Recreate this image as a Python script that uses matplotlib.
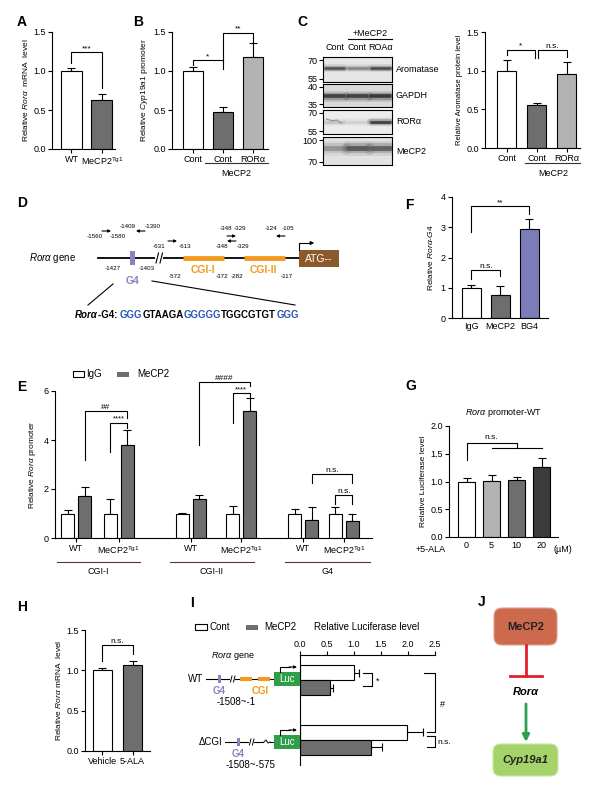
import matplotlib
matplotlib.use('Agg')
import matplotlib.pyplot as plt
from matplotlib.patches import Rectangle, FancyBboxPatch
import numpy as np

plt.rcParams['font.family'] = ['Liberation Sans', 'DejaVu Sans']
plt.rcParams['mathtext.fontset'] = 'custom'
plt.rcParams['mathtext.rm'] = 'Liberation Sans'
plt.rcParams['mathtext.it'] = 'Liberation Sans:italic'
plt.rcParams['mathtext.bf'] = 'Liberation Sans:bold'
plt.rcParams['axes.linewidth'] = 0.8

# ---- data ----
a_labels = ['WT', r'MeCP2$^{\mathrm{Tg1}}$']
a_vals = [1.0, 0.63]
a_errs = [0.04, 0.08]

b_labels = ['Cont', 'Cont', 'RORα']
b_vals = [1.0, 0.48, 1.18]
b_errs = [0.05, 0.06, 0.18]

c_lanes = ['Cont', 'Cont', 'ROAα']
c_proteins = ['Aromatase', 'GAPDH', 'RORα', 'MeCP2']
c_markers = [('70', '55'), ('40', '35'), ('70', '55'), ('100', '70')]
c_bands = [[0.8, 0.5, 0.85], [0.9, 0.9, 0.95], [0.12, 0.05, 0.9], [0.4, 0.75, 0.7]]
c_labels = ['Cont', 'Cont', 'RORα']
c_vals = [1.0, 0.55, 0.96]
c_errs = [0.14, 0.03, 0.15]

f_labels = ['IgG', 'MeCP2', 'BG4']
f_vals = [1.0, 0.75, 2.93]
f_errs = [0.1, 0.3, 0.35]

e_regions = ['CGI-I', 'CGI-II', 'G4']
e_geno = ['WT', r'MeCP2$^{\mathrm{Tg1}}$']
e_igg = [1.0, 1.0, 1.0, 1.0, 1.0, 1.0]
e_igg_err = [0.14, 0.6, 0.02, 0.3, 0.18, 0.28]
e_mecp2 = [1.72, 3.8, 1.6, 5.2, 0.73, 0.71]
e_mecp2_err = [0.38, 0.6, 0.15, 0.5, 0.55, 0.27]

g_doses = ['0', '5', '10', '20']
g_vals = [1.0, 1.01, 1.03, 1.27]
g_errs = [0.07, 0.11, 0.06, 0.16]

h_labels = ['Vehicle', '5-ALA']
h_vals = [1.0, 1.06]
h_errs = [0.03, 0.06]

i_constructs = ['WT', 'ΔCGI']
i_cont = [1.0, 1.98]
i_cont_err = [0.1, 0.3]
i_mecp2 = [0.55, 1.32]
i_mecp2_err = [0.07, 0.2]

g4_seq = [('GGG', 'blue'), ('GTAAGA', 'k'), ('GGGGG', 'blue'), ('TGGCGTGT', 'k'), ('GGG', 'blue')]

WHITE = 'white'
DGRAY = '#6e6e6e'
LGRAY = '#b3b3b3'
PURPLE = '#7b7db8'
ORANGE = '#f39a1e'
G4COL = '#8585c2'

W, H = 600, 791
fig = plt.figure(figsize=(6, 7.91), dpi=100)


def px_ax(x0, y0, x1, y1):
    return fig.add_axes([x0 / W, 1 - y1 / H, (x1 - x0) / W, (y1 - y0) / H])


def style(ax):
    ax.spines['top'].set_visible(False)
    ax.spines['right'].set_visible(False)
    ax.tick_params(direction='out', length=3, width=0.8, labelsize=6.5, pad=1.5)


def bars(ax, x, vals, errs, colors, width):
    ax.bar(x, vals, width, color=colors, edgecolor='k', linewidth=0.8, zorder=2)
    ax.errorbar(x, vals, yerr=[np.zeros(len(vals)), errs], fmt='none', ecolor='k',
                elinewidth=0.8, capsize=3, capthick=0.8, zorder=1)


def bracket(ax, x1, x2, y, y1, y2, txt, fs=6.5, dy=0.0):
    ax.plot([x1, x1, x2, x2], [y1, y, y, y2], color='k', lw=0.8, clip_on=False)
    ax.text((x1 + x2) / 2, y + dy, txt, ha='center', va='bottom', fontsize=fs)


# ---------------- A ----------------
axA = px_ax(52, 32, 115, 149)
style(axA)
bars(axA, [0, 1], a_vals, a_errs, [WHITE, DGRAY], 0.69)
axA.set_xlim(-0.64, 1.43)
axA.set_ylim(0, 1.5)
axA.set_yticks([0, 0.5, 1.0, 1.5])
axA.set_xticks([0, 1])
axA.set_xticklabels(a_labels)
axA.set_ylabel(r'Relative $\mathit{Rorα}$  mRNA  level', fontsize=6, labelpad=2)
bracket(axA, 0, 1, 1.24, 1.1, 0.78, '***', fs=6)

# ---------------- B ----------------
axB = px_ax(172, 32, 268, 149)
style(axB)
bars(axB, [0, 1, 2], b_vals, b_errs, [WHITE, DGRAY, LGRAY], 0.67)
axB.set_xlim(-0.71, 2.52)
axB.set_ylim(0, 1.5)
axB.set_yticks([0, 0.5, 1.0, 1.5])
axB.set_xticks([0, 1, 2])
axB.set_xticklabels(b_labels)
axB.set_ylabel(r'Relative $\mathit{Cyp19a1}$ promoter', fontsize=6, labelpad=2)
bracket(axB, 0, 1, 1.14, 1.08, 1.02, '*', fs=6)
bracket(axB, 1, 2, 1.49, 1.12, 1.37, '**', fs=6)

# ---------------- C blots ----------------
rows = [(57, 82), (84, 107), (110, 134), (137, 165)]
band_y = [0.55, 0.5, 0.5, 0.6]
band_w = [1.8, 2.6, 2.0, 3.5]
blot_bg = ['#e6e6e6', '#dadada', '#ececec', '#e2e2e2']
for k, (y0, y1) in enumerate(rows):
    axb = px_ax(323, y0, 392, y1)
    axb.set_facecolor(blot_bg[k])
    axb.set_xlim(-0.5, 2.5)
    axb.set_ylim(0, 1)
    for i, v in enumerate(c_bands[k]):
        g = 0.85 - v * 0.7
        for lw, al in [(band_w[k] * 3, 0.15), (band_w[k] * 2, 0.3), (band_w[k], 0.9)]:
            axb.plot([i - 0.42, i + 0.42], [band_y[k], band_y[k]], color=str(g), lw=lw,
                     solid_capstyle='round', alpha=al)
    if k == 2:
        axb.plot([-0.35, -0.1, 0.1, 0.3], [0.62, 0.55, 0.58, 0.45], color='0.55', lw=0.7)
    axb.set_xticks([])
    axb.set_yticks([0.88, 0.12])
    axb.set_yticklabels(c_markers[k])
    axb.tick_params(axis='y', length=3, width=0.8, labelsize=6.5, pad=1)
    for s in axb.spines.values():
        s.set_linewidth(0.8)

# ---------------- C chart ----------------
axC = px_ax(485, 32, 580, 148)
style(axC)
bars(axC, [0, 1, 2], c_vals, c_errs, [WHITE, DGRAY, LGRAY], 0.63)
axC.set_xlim(-0.72, 2.45)
axC.set_ylim(0, 1.5)
axC.set_yticks([0, 0.5, 1.0, 1.5])
axC.set_xticks([0, 1, 2])
axC.set_xticklabels(c_labels)
axC.set_ylabel('Relative Aromatase protein level', fontsize=5.5, labelpad=2)
bracket(axC, 0, 0.96, 1.27, 1.2, 1.16, '*', fs=6)
bracket(axC, 1.04, 2, 1.27, 1.16, 1.18, 'n.s.', fs=6)

# ---------------- F ----------------
axF = px_ax(452, 197, 548, 318)
style(axF)
bars(axF, [0, 1, 2], f_vals, f_errs, [WHITE, DGRAY, PURPLE], 0.66)
axF.set_xlim(-0.67, 2.64)
axF.set_ylim(0, 4)
axF.set_yticks([0, 1, 2, 3, 4])
axF.set_xticks([0, 1, 2])
axF.set_xticklabels(f_labels)
axF.tick_params(axis='x', length=0, pad=3)
axF.set_ylabel(r'Relative $\mathit{Rorα}$-$\mathit{G4}$', fontsize=6, labelpad=4)
bracket(axF, 0, 1, 1.6, 1.3, 1.4, 'n.s.', fs=6)
bracket(axF, 0, 2, 3.7, 2.85, 3.45, '**', fs=6)

# ---------------- E ----------------
axE = px_ax(55, 391, 372, 538)
style(axE)
e_ticks = [0, 2.5, 6.75, 9.7, 13.35, 15.75]
xi = [t - 0.5 for t in e_ticks]
xm = [t + 0.5 for t in e_ticks]
bars(axE, xi, e_igg, e_igg_err, [WHITE] * 6, 0.76)
bars(axE, xm, e_mecp2, e_mecp2_err, [DGRAY] * 6, 0.76)
axE.set_xlim(-1.24, 17.4)
axE.set_ylim(0, 6)
axE.set_yticks([0, 2, 4, 6])
axE.set_xticks(e_ticks)
axE.set_xticklabels(e_geno * 3)
axE.set_ylabel(r'Relative $\mathit{Rorα}$ promoter', fontsize=6, labelpad=4)
bracket(axE, xm[0], xm[1], 5.2, 3.2, 4.9, '##', fs=6)
bracket(axE, xi[1], xm[1], 4.7, 3.5, 4.5, '****', fs=5.5)
bracket(axE, xm[2], xm[3], 6.35, 3.8, 6.2, '####', fs=6)
bracket(axE, xi[3], xm[3], 5.9, 4.7, 5.75, '****', fs=5.5)
bracket(axE, xm[4], xm[5], 2.6, 2.25, 2.25, 'n.s.', fs=6)
bracket(axE, xi[5], xm[5], 1.75, 1.4, 1.4, 'n.s.', fs=6)

# ---------------- G ----------------
axG = px_ax(449, 426, 558, 537)
style(axG)
bars(axG, [0, 1, 2, 3], g_vals, g_errs, [WHITE, LGRAY, DGRAY, '#3c3c3c'], 0.68)
axG.set_xlim(-0.7, 3.66)
axG.set_ylim(0, 2.0)
axG.set_yticks([0, 0.5, 1.0, 1.5, 2.0])
axG.set_xticks([0, 1, 2, 3])
axG.set_xticklabels(g_doses)
axG.tick_params(axis='x', length=0, pad=3)
axG.set_ylabel('Relative Luciferase level', fontsize=6, labelpad=2)
axG.set_title(r'$\mathit{Rorα}$ promoter-WT', fontsize=6.5, pad=8)
axG.plot([0, 0, 2, 2], [1.39, 1.7, 1.7, 1.6], color='k', lw=0.8, clip_on=False)
axG.plot([1, 3], [1.6, 1.6], color='k', lw=0.8, clip_on=False)
axG.text(1.0, 1.73, 'n.s.', ha='center', va='bottom', fontsize=6)

# ---------------- H ----------------
axH = px_ax(85, 630, 150, 751)
style(axH)
bars(axH, [0, 1], h_vals, h_errs, [WHITE, DGRAY], 0.63)
axH.set_xlim(-0.58, 1.58)
axH.set_ylim(0, 1.5)
axH.set_yticks([0, 0.5, 1.0, 1.5])
axH.set_xticks([0, 1])
axH.set_xticklabels(h_labels)
axH.set_ylabel(r'Relative $\mathit{Rorα}$ mRNA  level', fontsize=6, labelpad=2)
bracket(axH, 0, 1, 1.32, 1.12, 1.2, 'n.s.', fs=6)

# ---------------- I ----------------
axI = px_ax(300, 655, 435, 765)
rows_c = [0, 4]
rows_m = [1, 5]
axI.barh(rows_c, i_cont, 0.95, color=WHITE, edgecolor='k', lw=0.8, zorder=2)
axI.barh(rows_m, i_mecp2, 0.95, color=DGRAY, edgecolor='k', lw=0.8, zorder=2)
axI.errorbar(i_cont, rows_c, xerr=[np.zeros(2), i_cont_err], fmt='none', ecolor='k',
             elinewidth=0.8, capsize=3, capthick=0.8, zorder=1)
axI.errorbar(i_mecp2, rows_m, xerr=[np.zeros(2), i_mecp2_err], fmt='none', ecolor='k',
             elinewidth=0.8, capsize=3, capthick=0.8, zorder=1)
axI.set_xlim(0, 2.5)
axI.set_ylim(6.17, -1.17)
axI.xaxis.tick_top()
axI.set_xticks([0, 0.5, 1.0, 1.5, 2.0, 2.5])
axI.set_yticks([])
axI.spines['bottom'].set_visible(False)
axI.spines['right'].set_visible(False)
axI.tick_params(direction='out', length=3, width=0.8, labelsize=6.5, pad=1.5)
axI.plot([1.17, 1.33, 1.33, 1.17], [0, 0, 0.9, 0.9], color='k', lw=0.8, clip_on=False)
axI.text(1.4, 0.6, '*', fontsize=6.5, va='center')
axI.plot([2.3, 2.5, 2.5, 2.35], [0, 0, 4.0, 4.0], color='k', lw=0.8, clip_on=False)
axI.text(2.6, 2.1, '#', fontsize=6.5, va='center')
axI.plot([2.35, 2.5, 2.5, 2.35], [4.25, 4.25, 5.0, 5.0], color='k', lw=0.8, clip_on=False)
axI.text(2.55, 4.65, 'n.s.', fontsize=6, va='center')

# ---------------- overlay for labels and diagrams ----------------
ov = fig.add_axes([0, 0, 1, 1], zorder=10)
ov.set_xlim(0, W)
ov.set_ylim(H, 0)
ov.axis('off')
ov.patch.set_alpha(0)

for lab, x, y in [('A', 17, 22), ('B', 133, 22), ('C', 297, 22), ('D', 17, 203),
                  ('F', 405, 205), ('E', 17, 387), ('G', 405, 386), ('H', 17, 607),
                  ('I', 190, 603), ('J', 478, 602)]:
    ov.text(x, y, lab, fontsize=10, fontweight='bold', ha='left', va='center')

# B / C group lines
for x0, x1, xc in [(205, 268, 236), (525, 580, 553)]:
    ov.plot([x0, x1], [163, 163], color='#333333', lw=0.8)
    ov.text(xc, 174, 'MeCP2', fontsize=6.5, ha='center', va='center')

# blot labels
lane_x = [334.5, 357.5, 380.5]
for x, t in zip(lane_x, c_lanes):
    ov.text(x, 48, t, fontsize=6.5, ha='center', va='center')
ov.plot([348, 392], [39, 39], color='k', lw=0.8)
ov.text(370, 33, '+MeCP2', fontsize=6.5, ha='center', va='center')
for (y0, y1), p in zip(rows, c_proteins):
    ov.text(396, (y0 + y1) / 2, p, fontsize=6.5, ha='left', va='center')

# E group lines
for (x0, x1), name in zip([(57, 140), (170, 254), (285, 370)], e_regions):
    ov.plot([x0, x1], [562, 562], color='#5a3535', lw=0.8)
    ov.text((x0 + x1) / 2, 571, name, fontsize=6.5, ha='center', va='center')

# E legend
ov.add_patch(Rectangle((73, 371), 11, 6, facecolor='white', edgecolor='k', lw=0.8))
ov.text(86, 374, 'IgG', fontsize=7, va='center')
ov.add_patch(Rectangle((117, 372), 12, 5, facecolor=DGRAY, edgecolor='none'))
ov.text(137, 374, 'MeCP2', fontsize=7, va='center')

# G axis extras
ov.text(446, 549, '+5-ALA', fontsize=6.5, ha='right', va='center')
ov.text(563, 549, '(µM)', fontsize=6.5, ha='center', va='center')

# ---- D diagram ----
yl = 258
ov.text(53, yl, r'$\mathit{Rorα}$ gene', fontsize=7, ha='center', va='center')
ov.plot([98, 300], [yl, yl], color='k', lw=1.3, zorder=1)
ov.add_patch(Rectangle((130, 251), 4.5, 14, facecolor=G4COL, edgecolor='none', zorder=2))
ov.add_patch(Rectangle((155, 254), 8, 8, facecolor='white', edgecolor='none', zorder=2))
for dx in (156, 160):
    ov.plot([dx, dx + 2.5], [263, 253], color='k', lw=0.8, zorder=3)
ov.plot([183, 224], [yl, yl], color=ORANGE, lw=3.5, solid_capstyle='butt', zorder=2)
ov.plot([244, 285], [yl, yl], color=ORANGE, lw=3.5, solid_capstyle='butt', zorder=2)
ov.add_patch(Rectangle((299, 250), 40, 17, facecolor='#8b5a2b', edgecolor='none', zorder=2))
ov.text(319, 258.5, 'ATG--', color='white', fontsize=7.5, ha='center', va='center', zorder=3)
ov.plot([299, 299, 310], [250, 243, 243], color='k', lw=0.8)
ov.annotate('', xy=(317, 243), xytext=(308, 243),
            arrowprops=dict(arrowstyle='-|>', lw=0.8, color='k', mutation_scale=5))
small = 4.5
for t, x, y in [('-1560', 95, 237), ('-1580', 118, 237), ('-1409', 128, 227), ('-1390', 153, 227),
                ('-631', 159, 247), ('-613', 185, 247), ('-348', 226, 229), ('-329', 240, 229),
                ('-348', 222, 247), ('-329', 243, 247), ('-124', 271, 229), ('-105', 288, 229),
                ('-1427', 113, 269), ('-1403', 147, 269), ('-572', 175, 277), ('-372', 222, 277),
                ('-282', 237, 277), ('-117', 287, 277)]:
    ov.text(x, y, t, fontsize=small, ha='center', va='center')
for x1, x2, y in [(102, 111, 231), (145, 136, 231), (168, 177, 241), (227, 236, 236),
                  (236, 227, 241), (285, 276, 236)]:
    ov.annotate('', xy=(x2, y), xytext=(x1, y),
                arrowprops=dict(arrowstyle='-|>', lw=0.8, color='k', mutation_scale=4,
                                shrinkA=0, shrinkB=0))
ov.text(203, 270, 'CGI-I', color=ORANGE, fontsize=7.5, fontweight='bold', ha='center', va='center')
ov.text(263, 270, 'CGI-II', color=ORANGE, fontsize=7.5, fontweight='bold', ha='center', va='center')
ov.text(133, 281, 'G4', color=G4COL, fontsize=7.5, fontweight='bold', ha='center', va='center')
ov.plot([113, 88], [284, 305], color='k', lw=0.8)
ov.plot([152, 295], [281, 305], color='k', lw=0.8)

# G4 sequence
r = fig.canvas.get_renderer()
xs = 75
t0 = ov.text(xs, 315, 'Rorα', fontsize=7, fontweight='bold', style='italic', va='center')
xs += t0.get_window_extent(renderer=r).width
t1 = ov.text(xs, 315, '-G4: ', fontsize=7, fontweight='bold', va='center')
xs += t1.get_window_extent(renderer=r).width
for s, col in g4_seq:
    tt = ov.text(xs, 315, s, fontsize=7, fontweight='bold', color=col if col != 'blue' else '#2b55b5',
                 va='center')
    xs += tt.get_window_extent(renderer=r).width

# ---- I legend and diagram ----
ov.add_patch(Rectangle((195, 624), 12, 6, facecolor='white', edgecolor='k', lw=0.8))
ov.text(209, 627, 'Cont', fontsize=7, va='center')
ov.add_patch(Rectangle((246, 625), 12, 5, facecolor=DGRAY, edgecolor='none'))
ov.text(264, 627, 'MeCP2', fontsize=7, va='center')
ov.text(367, 627, 'Relative Luciferase level', fontsize=7, ha='center', va='center')
ov.text(233, 656, r'$\mathit{Rorα}$ gene', fontsize=6.5, ha='center', va='center')

for yrow, name, xstart, xg4, has_cgi, sub in [(679, i_constructs[0], 206, 219, True, '-1508~-1'),
                                             (742, i_constructs[1], 225, 238, False, '-1508~-575')]:
    ov.text(xstart - 3, yrow, name, fontsize=7, ha='right', va='center')
    ov.plot([xstart, 274], [yrow, yrow], color='k', lw=0.8, zorder=1)
    ov.add_patch(Rectangle((xg4 - 1.5, yrow - 4), 3, 8, facecolor=G4COL, edgecolor='none', zorder=2))
    bx = xg4 + 11
    ov.add_patch(Rectangle((bx, yrow - 3), 5, 6, facecolor='white', edgecolor='none', zorder=2))
    for dx in (bx + 0.5, bx + 3.5):
        ov.plot([dx, dx + 1.5], [yrow + 3, yrow - 3], color='k', lw=0.7, zorder=3)
    if has_cgi:
        ov.plot([240, 252], [yrow, yrow], color=ORANGE, lw=3, solid_capstyle='butt', zorder=2)
        ov.plot([258, 270], [yrow, yrow], color=ORANGE, lw=3, solid_capstyle='butt', zorder=2)
        ov.text(260, yrow + 12, 'CGI', color=ORANGE, fontsize=7, fontweight='bold',
                ha='center', va='center')
    else:
        ov.add_patch(Rectangle((264, yrow - 3), 6, 6, facecolor='white', edgecolor='none', zorder=2))
        ov.plot([264, 266, 268, 270], [yrow, yrow - 2, yrow + 1, yrow], color='k', lw=0.7, zorder=3)
    ov.add_patch(Rectangle((274, yrow - 7), 26, 14, facecolor='#2e9e48', edgecolor='none', zorder=2))
    ov.text(287, yrow, 'Luc', color='white', fontsize=7, ha='center', va='center', zorder=3)
    ov.plot([280, 280, 290], [yrow - 7, yrow - 12, yrow - 12], color='k', lw=0.8)
    ov.annotate('', xy=(297, yrow - 12), xytext=(289, yrow - 12),
                arrowprops=dict(arrowstyle='-|>', lw=0.8, color='k', mutation_scale=4,
                                shrinkA=0, shrinkB=0))
    ov.text(xg4, yrow + 12, 'G4', color=G4COL, fontsize=7, fontweight='bold', ha='center',
            va='center')
    ov.text(xg4 + 17 if has_cgi else xg4 + 12, yrow + 23, sub, fontsize=7, ha='center', va='center')

# ---- J ----
ov.add_patch(FancyBboxPatch((494, 608), 63, 37, boxstyle='round,pad=0,rounding_size=8',
                            facecolor='#cd6a4e', edgecolor='#e0a090', lw=0.8))
ov.text(525.5, 627, 'MeCP2', fontsize=8, fontweight='bold', color='#222222', ha='center',
        va='center')
ov.plot([526, 526], [645, 676], color='#e0202e', lw=2)
ov.plot([510, 542], [676, 676], color='#e0202e', lw=2)
ov.text(526, 692, 'Rorα', fontsize=8, fontweight='bold', style='italic', ha='center', va='center')
ov.annotate('', xy=(526, 742), xytext=(526, 704),
            arrowprops=dict(arrowstyle='-|>', lw=2, color='#2ca04c', mutation_scale=10,
                            shrinkA=0, shrinkB=0))
ov.add_patch(FancyBboxPatch((493, 744), 65, 32, boxstyle='round,pad=0,rounding_size=8',
                            facecolor='#a5d36a', edgecolor='#c8e6a0', lw=0.8))
ov.text(525.5, 760, 'Cyp19a1', fontsize=8, fontweight='bold', style='italic', color='#222222',
        ha='center', va='center')

fig.savefig('out.png', dpi=100)
